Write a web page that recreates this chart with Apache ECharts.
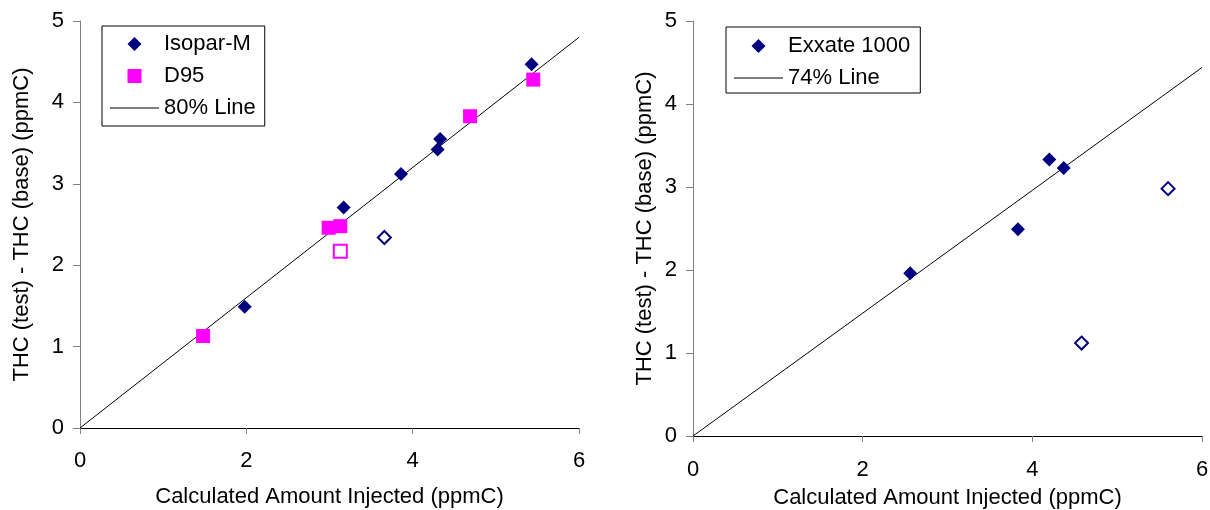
<!DOCTYPE html>
<html>
<head>
<meta charset="utf-8">
<script src="https://cdn.jsdelivr.net/npm/echarts@6/dist/echarts.min.js"></script>
<style>
  html, body { margin: 0; padding: 0; background: #fff; }
  #chart { width: 1210px; height: 510px; }
</style>
</head>
<body>
<div id="chart"></div>
<script>
// left panel: Isopar-M & D95
const isoparX = [1.98, 3.17, 3.86, 4.30, 4.33, 5.43]
const isoparY = [1.49, 2.71, 3.12, 3.42, 3.55, 4.47]
const isoparOpenX = [3.66]
const isoparOpenY = [2.34]
const d95X = [1.48, 2.99, 3.13, 4.69, 5.45]
const d95Y = [1.13, 2.46, 2.48, 3.83, 4.28]
const d95OpenX = [3.13]
const d95OpenY = [2.17]
const line80X = [0, 6]
const line80Y = [0, 4.8]

// right panel: Exxate 1000
const exxateX = [2.56, 3.83, 4.20, 4.37]
const exxateY = [1.96, 2.49, 3.33, 3.23]
const exxateOpenX = [4.58, 5.60]
const exxateOpenY = [1.12, 2.98]
const line74X = [0, 6]
const line74Y = [0, 4.44]

const xTicks = [0, 2, 4, 6]
const yTicks = [0, 1, 2, 3, 4, 5]

const NAVY = '#000080'
const MAGENTA = '#FF00FF'
const FONT = "'Liberation Sans', Arial, sans-serif"

// legend icons (keep aspect so they don't stretch over itemWidth)
const ICON_DIAMOND = 'path://M0,-1L1,0L0,1L-1,0Z'
const ICON_SQUARE = 'path://M0,0L1,0L1,1L0,1Z'
const ICON_LINE = 'path://M0,0L49,0L49,1L0,1Z'

const pairs = (xs, ys) => xs.map((x, i) => [x, ys[i]])

const xAxisOf = (gridIndex, gap, margin) => ({
  type: 'value',
  gridIndex,
  min: xTicks[0],
  max: xTicks[xTicks.length - 1],
  interval: 2,
  name: 'Calculated Amount Injected (ppmC)',
  nameLocation: 'middle',
  nameGap: gap,
  nameTextStyle: { fontFamily: FONT, fontSize: 22, color: '#000' },
  axisLine: { lineStyle: { color: '#000', width: 1 } },
  axisTick: { show: true, length: 6, lineStyle: { color: '#808080' } },
  axisLabel: { margin, fontFamily: FONT, fontSize: 22, color: '#000' },
  splitLine: { show: false }
})

const yAxisOf = (gridIndex, gap) => ({
  type: 'value',
  gridIndex,
  min: yTicks[0],
  max: yTicks[yTicks.length - 1],
  interval: 1,
  name: 'THC (test) - THC (base) (ppmC)',
  nameLocation: 'middle',
  nameGap: gap,
  nameTextStyle: { fontFamily: FONT, fontSize: 22, color: '#000' },
  axisLine: { show: true, lineStyle: { color: '#808080', width: 1 } },
  axisTick: { show: true, length: 7, lineStyle: { color: '#808080' } },
  axisLabel: { margin: 16, fontFamily: FONT, fontSize: 22, color: '#000' },
  splitLine: { show: false }
})

const legendOf = (left, top, items, pad) => ({
  orient: 'vertical',
  left,
  top,
  data: items,
  itemWidth: 49,
  itemHeight: 14,
  itemGap: 10,
  padding: pad,
  symbolKeepAspect: true,
  borderColor: '#000',
  borderWidth: 1,
  borderRadius: 0,
  selectedMode: false,
  textStyle: { fontFamily: FONT, fontSize: 22, color: '#000', lineHeight: 22 }
})

const filled = (name, data, symbol, color, xi) => ({
  name,
  type: 'scatter',
  xAxisIndex: xi,
  yAxisIndex: xi,
  data,
  symbol,
  symbolSize: 14,
  itemStyle: { color, opacity: 1 },
  silent: true
})

const hollow = (data, symbol, color, xi) => ({
  name: 'open' + xi + symbol,
  type: 'scatter',
  xAxisIndex: xi,
  yAxisIndex: xi,
  data,
  symbol,
  symbolSize: 13,
  itemStyle: { color: '#fff', borderColor: color, borderWidth: 2, opacity: 1 },
  silent: true
})

const fitLine = (name, data, xi) => ({
  name,
  type: 'line',
  xAxisIndex: xi,
  yAxisIndex: xi,
  data,
  symbol: 'none',
  lineStyle: { color: '#000', width: 1 },
  itemStyle: { color: '#000' },
  silent: true,
  z: 1
})

const chart = echarts.init(document.getElementById('chart'))
chart.setOption({
  animation: false,
  grid: [
    { left: 80, top: 21, width: 499, height: 407, outerBoundsMode: 'none' },
    { left: 693, top: 21, width: 509, height: 415, outerBoundsMode: 'none' }
  ],
  xAxis: [xAxisOf(0, 58, 22), xAxisOf(1, 51, 23)],
  yAxis: [yAxisOf(0, 47), yAxisOf(1, 37)],
  legend: [
    legendOf(102, 26, [
      { name: 'Isopar-M', icon: ICON_DIAMOND },
      { name: 'D95', icon: ICON_SQUARE },
      { name: '80% Line', icon: ICON_LINE }
    ], [7, 9, 7, 8]),
    legendOf(726, 27, [
      { name: 'Exxate 1000', icon: ICON_DIAMOND },
      { name: '74% Line', icon: ICON_LINE }
    ], [8, 10, 4, 8])
  ],
  series: [
    fitLine('80% Line', pairs(line80X, line80Y), 0),
    filled('Isopar-M', pairs(isoparX, isoparY), 'diamond', NAVY, 0),
    hollow(pairs(isoparOpenX, isoparOpenY), 'diamond', NAVY, 0),
    filled('D95', pairs(d95X, d95Y), 'rect', MAGENTA, 0),
    hollow(pairs(d95OpenX, d95OpenY), 'rect', MAGENTA, 0),
    fitLine('74% Line', pairs(line74X, line74Y), 1),
    filled('Exxate 1000', pairs(exxateX, exxateY), 'diamond', NAVY, 1),
    hollow(pairs(exxateOpenX, exxateOpenY), 'diamond', NAVY, 1)
  ]
})
</script>
</body>
</html>
